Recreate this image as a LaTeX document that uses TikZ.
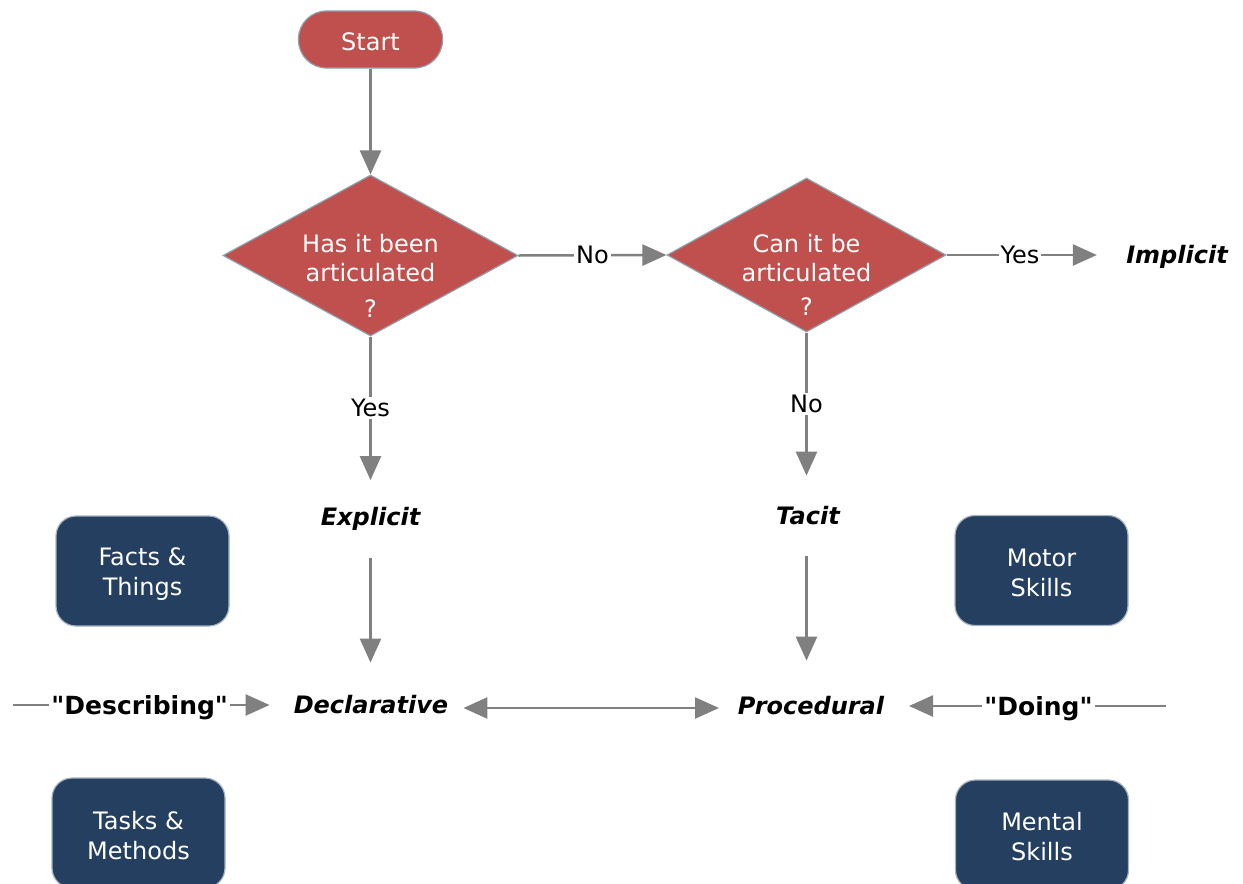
\documentclass[tikz,border=0pt]{standalone}
\usepackage{fontspec}
\setmainfont{DejaVu Sans}[Ligatures=TeXOff]
\usetikzlibrary{shapes.geometric,arrows.meta}
\definecolor{redfill}{HTML}{C0504D}
\definecolor{navy}{HTML}{243F60}
\definecolor{edgeblue}{HTML}{8EA1AE}
\definecolor{arrowgray}{HTML}{808080}
\begin{document}
\begin{tikzpicture}[x=0.5pt,y=-0.5pt,
 startbox/.style={draw=edgeblue, line width=0.6pt, fill=redfill, rounded corners=14pt, minimum width=72pt, minimum height=28.5pt, text=white, font=\fontsize{12}{14}\selectfont},
 dia/.style={diamond, draw=edgeblue, line width=0.6pt, fill=redfill, inner sep=0pt},
 diatext/.style={text=white, align=center, font=\fontsize{12}{14.5}\selectfont, inner sep=0pt},
 darkbox/.style={draw=edgeblue!80, line width=0.6pt, fill=navy, rounded corners=10pt, minimum width=86.5pt, minimum height=55pt},
 boxtext/.style={text=white, align=center, font=\fontsize{12}{15}\selectfont, inner sep=0pt},
 term/.style={font=\fontsize{12}{14}\selectfont\bfseries\itshape, inner sep=0pt},
 arr/.style={draw=arrowgray, line width=1.25pt, -{Triangle[length=12pt,width=10.5pt]}},
 dblarr/.style={draw=arrowgray, line width=1.25pt, {Triangle[length=12pt,width=10.5pt]}-{Triangle[length=12pt,width=10.5pt]}},
 lbl/.style={fill=white, text=black, font=\fontsize{12}{14}\selectfont, inner sep=1pt},
 qlbl/.style={fill=white, text=black, font=\fontsize{12.5}{14}\selectfont\bfseries, inner sep=1pt, yshift=-1.2pt},
]
\useasboundingbox[fill=white] (0,0) rectangle (1243,884);

% nodes
\node[startbox] (start) at (370.5,39.5) {};
\node[text=white, font=\fontsize{12}{14}\selectfont, inner sep=0pt] (startt) at (370.5,41.5) {Start};
\node[dia, minimum width=147.5pt, minimum height=80.5pt] (d1) at (370.5,255.5) {};
\node[diatext] (d1t) at (370.5,258) {Has it been\\articulated};
\node[diatext] (d1q) at (370.5,309) {?};
\node[dia, minimum width=139.5pt, minimum height=77pt] (d2) at (806.5,255) {};
\node[diatext] (d2t) at (806.5,258) {Can it be\\articulated};
\node[diatext] (d2q) at (806.5,307) {?};

\node[term] (implicit) at (1177,257) {Implicit};
\node[term, minimum height=38.5pt] (explicit) at (370.5,519) {Explicit};
\node[term, minimum height=40pt] (tacit) at (808,516) {Tacit};
\node[term, minimum height=42pt] (decl) at (371,705) {Declarative};
\node[term, minimum height=45pt] (proc) at (811,706) {Procedural};

\node[darkbox] (facts) at (142.5,571) {};
\node[boxtext] (factst) at (142.5,574) {Facts \&\\Things};
\node[darkbox] (motor) at (1041.5,570.5) {};
\node[boxtext] (motort) at (1041.5,573) {Motor\\Skills};
\node[darkbox] (tasks) at (138.5,833) {};
\node[boxtext] (taskst) at (138.5,836) {Tasks \&\\Methods};
\node[darkbox] (mental) at (1042,835) {};
\node[boxtext] (mentalt) at (1042,837) {Mental\\Skills};

\coordinate (descstart) at (13,705);
\coordinate (doingstart) at (1166,706);

% connectors
\draw[arr] (start.south) -- (d1.north);
\draw[arr] (d1.east) -- node[lbl] {No} (d2.west);
\draw[arr, shorten >=14.5pt] (d2.east) -- node[lbl, pos=0.41] {Yes} (implicit.west |- d2.east);
\draw[arr] (d1.south) -- node[lbl] {Yes} (explicit.north);
\draw[arr] (d2.south) -- node[lbl] {No} (d2.south |- tacit.north);
\draw[arr] (explicit.south) -- (explicit.south |- decl.north);
\draw[arr] (tacit.south -| d2.south) -- (d2.south |- proc.north);
\draw[dblarr, shorten <=7.4pt, shorten >=9.25pt] ([yshift=-1.5pt]decl.east) -- ([yshift=-1.5pt]decl.east -| proc.west);
\draw[arr, shorten >=11.9pt] (descstart) -- node[qlbl, pos=0.452] {"Describing"} (decl.west |- descstart);
\draw[arr, shorten >=12.25pt] (doingstart) -- node[qlbl, pos=0.453] {"Doing"} (proc.east |- doingstart);
\end{tikzpicture}
\end{document}
